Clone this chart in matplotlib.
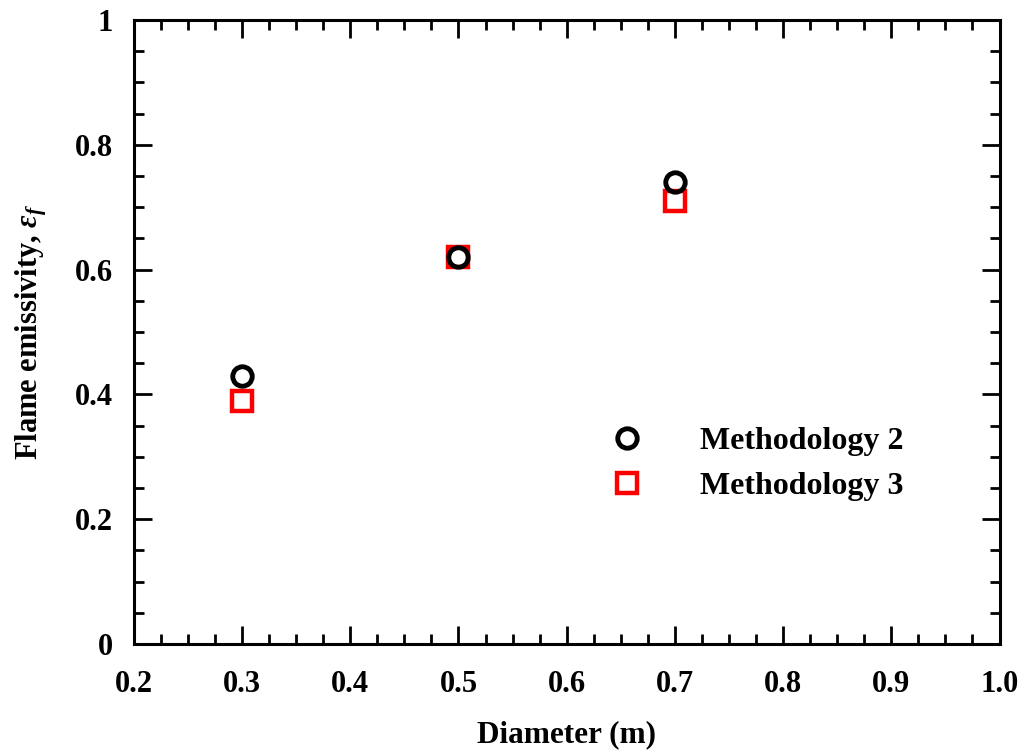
import numpy as np
import matplotlib
matplotlib.use('Agg')
import matplotlib.pyplot as plt
from matplotlib.ticker import MultipleLocator, FormatStrFormatter

plt.rcParams['font.family'] = ['Liberation Serif', 'DejaVu Serif']
plt.rcParams['font.weight'] = 'bold'
plt.rcParams['mathtext.fontset'] = 'custom'
plt.rcParams['mathtext.it'] = 'Liberation Serif:italic'
plt.rcParams['mathtext.rm'] = 'Liberation Serif:bold'

# Daten
diameter = [0.3, 0.5, 0.7]
method2 = [0.43, 0.62, 0.74]
method3 = [0.39, 0.62, 0.71]

fig = plt.figure(figsize=(10.22, 7.53), dpi=100)
ax = fig.add_axes([0.131, 0.1448, 0.847, 0.8285])

ax.plot(diameter, method3, 's', ms=14, mfc='none', mec='#ff0000', mew=3.2,
        label='Methodology 3', zorder=3)
ax.plot(diameter, method2, 'o', ms=14, mfc='none', mec='black', mew=3.5,
        label='Methodology 2', zorder=4)

ax.set_xlim(0.2, 1.0)
ax.set_ylim(0, 1)
ax.xaxis.set_major_locator(MultipleLocator(0.1))
ax.xaxis.set_minor_locator(MultipleLocator(0.025))
ax.yaxis.set_major_locator(MultipleLocator(0.2))
ax.yaxis.set_minor_locator(MultipleLocator(0.05))
ax.xaxis.set_major_formatter(FormatStrFormatter('%.1f'))
ax.set_yticks([0, 0.2, 0.4, 0.6, 0.8, 1.0])
ax.set_yticklabels(['0', '0.2', '0.4', '0.6', '0.8', '1'])

for s in ax.spines.values():
    s.set_linewidth(2.2)
ax.tick_params(which='both', direction='in', top=True, right=True, width=2)
ax.tick_params(which='major', length=13, labelsize=22)
ax.tick_params(which='minor', length=7)
ax.tick_params(axis='x', which='major', pad=19)
ax.tick_params(axis='y', which='major', pad=15)

ax.set_xlabel('Diameter (m)', fontsize=22.5, fontweight='bold', labelpad=15)
ax.set_ylabel(r'Flame emissivity, $\varepsilon_f$', fontsize=22, fontweight='bold', labelpad=19)

h, l = ax.get_legend_handles_labels()
ax.legend(h[::-1], l[::-1], loc='center left', bbox_to_anchor=(0.518, 0.289),
          frameon=False, fontsize=23, handlelength=1, handletextpad=1.8,
          labelspacing=0.5)

fig.savefig('out.png', dpi=100)
